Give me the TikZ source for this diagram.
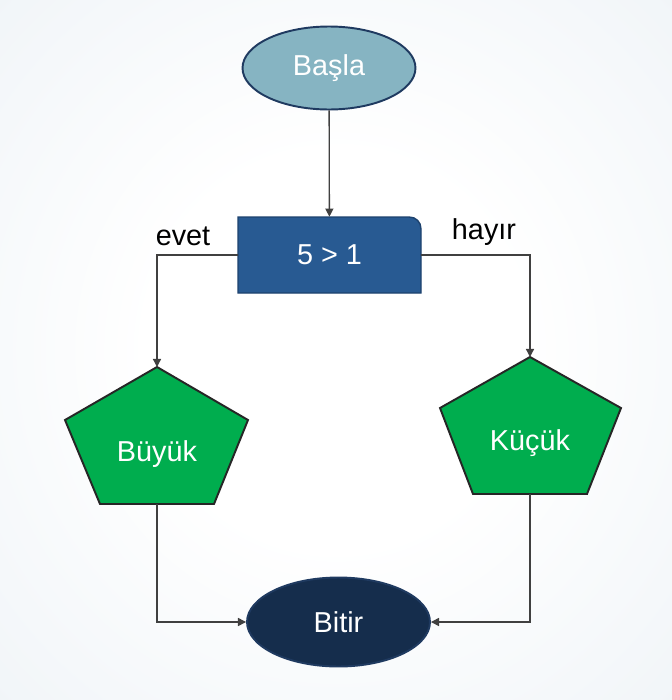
\documentclass[tikz,border=0pt]{standalone}
\usepackage{fontspec}
\setmainfont{Liberation Sans}
\usetikzlibrary{shapes.geometric, arrows.meta, positioning}
\definecolor{startfill}{RGB}{134,180,194}
\definecolor{navyedge}{RGB}{31,58,96}
\definecolor{testfill}{RGB}{40,90,146}
\definecolor{testedge}{RGB}{29,66,110}
\definecolor{pentafill}{RGB}{0,173,78}
\definecolor{endfill}{RGB}{21,45,76}
\definecolor{linegray}{RGB}{64,64,64}
\definecolor{bgedge}{RGB}{224,233,240}
\pgfdeclareradialshading{bgshade}{\pgfpoint{0bp}{0bp}}{color(0bp)=(white); color(14bp)=(white); color(62bp)=(bgedge); color(75bp)=(bgedge)}
\def\testbox{(238,293) -- (238,217) -- (409,217) .. controls (416,217) and (421,222) .. (421,229) -- (421,293) -- cycle}
\def\leftpenta{(157,367) -- (248,420) -- (214,504) -- (100,504) -- (65,420) -- cycle}
\def\rightpenta{(530,357) -- (621,408) -- (587,494) -- (473,494) -- (440,408) -- cycle}

\begin{document}
\begin{tikzpicture}[x = 0.02cm, y = -0.02cm,
    every node/.style = {font = \fontsize{16.4}{20}\selectfont},
    terminal/.style = {ellipse, draw = navyedge, line width = 1.1pt, inner sep = 0pt, text = white},
    flow/.style = {draw = linegray, line width = 0.75pt, -{Triangle[length = 4.6pt, width = 4.6pt]}}]
    % Sfondo
    \useasboundingbox (0,0) rectangle (672,700);
    \shade[shading = bgshade] (0,0) rectangle (672,700);
    % Inizio
    \node[terminal, fill = startfill, minimum width = 3.46cm, minimum height = 1.66cm] (basla) at (329,68) {Başla};
    % Condizione
    \fill[testfill] \testbox;
    \draw[testedge, line width = 0.8pt] \testbox;
    \node[minimum width = 3.66cm, minimum height = 1.52cm, inner sep = 0pt, text = white] (test) at (329.5,255) {5 > 1};
    % Rami
    \fill[pentafill] \leftpenta;
    \draw[black!85, line width = 1.1pt, line join = miter] \leftpenta;
    \node[text = white] (buyuk) at (157,454) {Büyük};
    \coordinate (buyuktop) at (157,367);
    \coordinate (buyukbot) at (157,504);
    \fill[pentafill] \rightpenta;
    \draw[black!85, line width = 1.1pt, line join = miter] \rightpenta;
    \node[text = white] (kucuk) at (530,443) {Küçük};
    \coordinate (kucuktop) at (530,357);
    \coordinate (kucukbot) at (530,494);
    % Fine
    \node[terminal, fill = endfill, minimum width = 3.66cm, minimum height = 1.78cm] (bitir) at (338.5,622) {Bitir};
    % Etichette
    \node (evet) at (183,236) {evet};
    \node (hayir) at (484,232) {hayır};
    % Frecce
    \draw[flow] (basla) -- (test);
    \draw[flow] (test.west) -| (buyuktop);
    \draw[flow] (test.east) -| (kucuktop);
    \draw[flow] (buyukbot) |- (bitir.west);
    \draw[flow] (kucukbot) |- (bitir.east);
\end{tikzpicture}
\end{document}
